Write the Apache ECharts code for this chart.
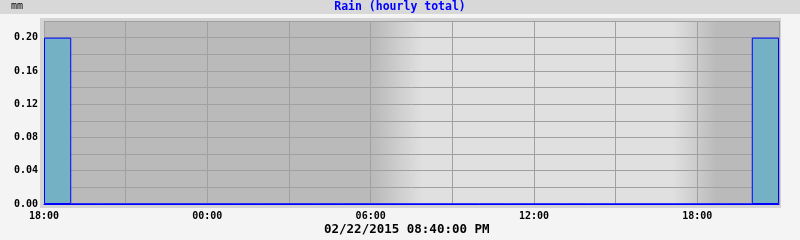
<!DOCTYPE html>
<html>
<head>
<meta charset="utf-8">
<script src="https://cdn.jsdelivr.net/npm/echarts@6/dist/echarts.min.js"></script>
<style>
html,body{margin:0;padding:0;background:#f4f4f4;}
#chart{width:800px;height:240px;}
</style>
</head>
<body>
<div id="chart"></div>
<script>
// Hourly categories from 18:00 (Feb 21) to 20:00 (Feb 22)
const hourCategories = ['18:00','19:00','20:00','21:00','22:00','23:00','00:00','01:00','02:00','03:00','04:00','05:00','06:00','07:00','08:00','09:00','10:00','11:00','12:00','13:00','14:00','15:00','16:00','17:00','18:00','19:00','20:00'];
const rainValues = [0.20,0,0,0,0,0,0,0,0,0,0,0,0,0,0,0,0,0,0,0,0,0,0,0,0,0,0.20];
const xTickLabels = ['18:00','00:00','06:00','12:00','18:00'];
const yTickLabels = ['0.00','0.04','0.08','0.12','0.16','0.20'];
const titleText = 'Rain (hourly total)';
const unitText = 'mm';
const dateText = '02/22/2015 08:40:00 PM';
// day/night shading boundaries in hours since start
const nightEnd = [12.1, 13.9];
const nightStart = [23.1, 24.7];

const totalHours = hourCategories.length;
const chart = echarts.init(document.getElementById('chart'), null, {renderer:'canvas'});
const mono = 'DejaVu Sans Mono';
const dark = '#bababa', light = '#e0e0e0';

chart.setOption({
  animation: false,
  backgroundColor: '#f4f4f4',
  graphic: [
    {type:'rect', z:-10, shape:{x:0,y:0,width:800,height:14}, style:{fill:'#d8d8d8'}},
    {type:'rect', z:-10, shape:{x:40,y:18,width:741,height:190}, style:{fill:'#d4d4d4'}},
    {type:'text', z:10, left:324, top:223, style:{text:dateText, font:'bold 12.5px "DejaVu Sans Mono"', fill:'#000'}}
  ],
  title: [
    {text: titleText, left:'center', top:0, padding:[1,0,0,0], textStyle:{fontFamily:mono, fontWeight:'bold', fontSize:11.5, color:'#0000ff'}},
    {text: unitText, left:11, top:0, padding:[1,0,0,0], textStyle:{fontFamily:mono, fontWeight:'normal', fontSize:10, color:'#000'}}
  ],
  grid: {left:44, right:21, top:21, bottom:36, containLabel:false},
  xAxis: [
    {type:'category', data: hourCategories, boundaryGap:true, z:4,
     axisLine:{show:true, lineStyle:{color:'#0000ff', width:1}},
     axisTick:{show:false}, axisLabel:{show:false}, splitLine:{show:false}},
    {type:'value', min:0, max:totalHours, interval:3, position:'bottom', z:1,
     axisLine:{show:false}, axisTick:{show:false},
     splitLine:{show:true, lineStyle:{color:'#a0a0a0', width:1}},
     axisLabel:{show:true, margin:7, fontFamily:mono, fontWeight:'bold', fontSize:10, color:'#000',
       showMaxLabel:false,
       formatter: v => (v % 6 === 0 && v/6 < xTickLabels.length) ? xTickLabels[v/6] : ''}}
  ],
  yAxis: {type:'value', min:0, max:0.22, interval:0.02, z:1,
    axisLine:{show:false}, axisTick:{show:false},
    splitLine:{show:true, lineStyle:{color:'#a0a0a0', width:1}},
    axisLabel:{margin:6, fontFamily:mono, fontWeight:'bold', fontSize:10, color:'#000',
      showMaxLabel:true,
      formatter: v => { const i = Math.round(v*100); return (i % 4 === 0 && i/4 < yTickLabels.length) ? yTickLabels[i/4] : ''; }}},
  series: [
    {type:'line', xAxisIndex:1, data:[], silent:true, z:0,
     markArea:{silent:true, z:0,
       itemStyle:{color:{type:'linear', x:0, y:0, x2:1, y2:0, colorStops:[
         {offset:0, color:dark},
         {offset:nightEnd[0]/totalHours, color:dark},
         {offset:nightEnd[1]/totalHours, color:light},
         {offset:nightStart[0]/totalHours, color:light},
         {offset:nightStart[1]/totalHours, color:dark},
         {offset:1, color:dark}]}},
       data:[[{xAxis:0, yAxis:0},{xAxis:totalHours, yAxis:0.22}]]}},
    {type:'bar', xAxisIndex:0, data: rainValues, barWidth:'100%', barGap:'0%', z:3,
     itemStyle:{color:'#74b1c5', borderColor:'#0000ff', borderWidth:1}}
  ]
});
</script>
</body>
</html>
